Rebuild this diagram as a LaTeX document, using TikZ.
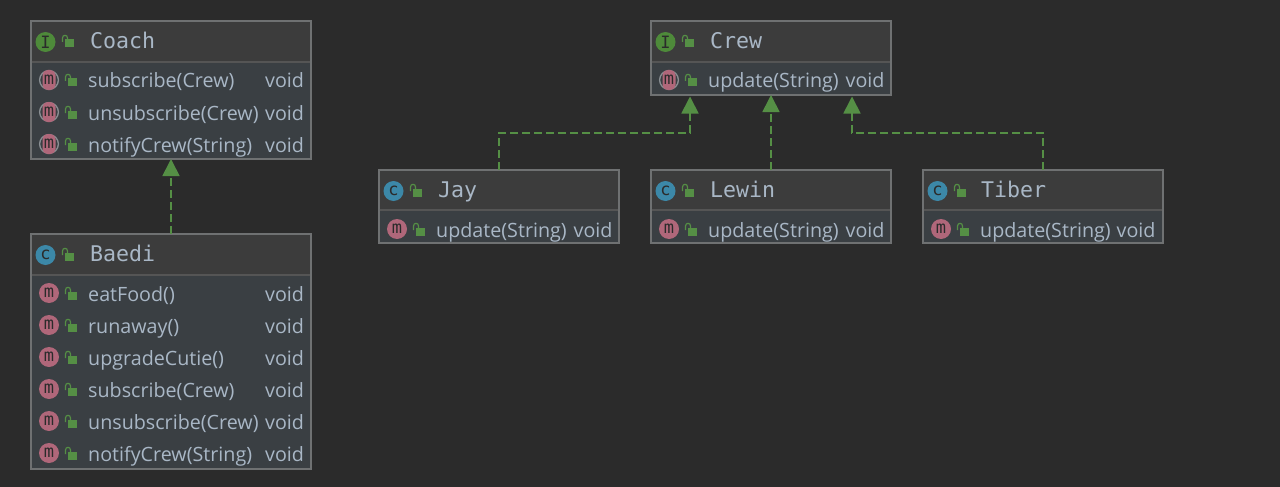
\documentclass[tikz,border=0pt]{standalone}
\usepackage{fontspec}
\setmainfont{Open Sans}
\newfontfamily\titlefont{DejaVu Sans Mono}
\usetikzlibrary{arrows.meta}
\definecolor{bgc}{HTML}{2B2B2B}
\definecolor{headc}{HTML}{3C3C3C}
\definecolor{bodyc}{HTML}{3A3F43}
\definecolor{edgec}{HTML}{6F7172}
\definecolor{sepc}{HTML}{555555}
\definecolor{txtc}{HTML}{A9B7C6}
\definecolor{greenc}{HTML}{558F45}
\definecolor{ifacec}{HTML}{4E8A3A}
\definecolor{classc}{HTML}{3C88A8}
\definecolor{methc}{HTML}{B0677A}
\definecolor{ringc}{HTML}{8A8F93}
\tikzset{
  x=1pt,y=-1pt,
  box/.style={draw=edgec,line width=1.2pt,fill=bodyc,inner sep=0pt,outer sep=0pt,anchor=north west},
  title/.style={font=\titlefont\fontsize{21.6}{22}\selectfont,text=txtc,anchor=base west,inner sep=0pt},
  member/.style={font=\fontsize{19.7}{21}\selectfont,text=txtc,anchor=base west,inner sep=0pt},
  badge/.style={circle,inner sep=0pt,minimum size=20pt,text=bgc,font=\fontsize{17}{17}\selectfont},
  realize/.style={draw=greenc,line width=1.7pt,dash pattern=on 8pt off 4pt,-{Triangle[width=17pt,length=17pt,fill=greenc]}},
}
\newcounter{itemc}
% open padlock centred on x,y
\newcommand{\padlock}[2]{%
  \fill[greenc] (#1-3.5,#2-2.5) rectangle (#1+5.5,#2+5.5);
  \draw[greenc,line width=1.2pt] (#1-5.5,#2) -- (#1-5.5,#2-4) .. controls (#1-5.5,#2-7.5) and (#1-0.5,#2-7.5) .. (#1-0.5,#2-4) -- (#1-0.5,#2-2);
}
\newcommand{\umlbox}[8]{%
  \node[box,minimum width=#6,minimum height=#4-#3] (#1) at (#2,#3) {};
  \fill[headc] (#2+0.6,#3+0.6) rectangle (#2+#6-0.6,#5);
  \draw[sepc,line width=1.2pt] (#2+0.6,#5) -- (#2+#6-0.6,#5);
  \node[badge,fill=#7] (#1-badge) at (#2+14.5,#3+21) {\titlefont #8};
  \padlock{#2+37}{#3+21}
}
\newcommand{\umltitle}[4]{\node[title] (#1-title) at (#2,#3) {#4};}
\newcommand{\mrow}[4]{%
  \stepcounter{itemc}%
  \node[badge,fill=methc] (m\theitemc) at (#1+18,#2-1) {\titlefont m};
  \padlock{#1+40}{#2}
  \node[member] (t\theitemc) at (#1+57,#2+7) {#3};
  \node[member] (v\theitemc) at (#4,#2+7) {void};
}
\newcommand{\arow}[4]{%
  \stepcounter{itemc}%
  \draw[ringc,line width=1.3pt] (#1+18,#2-1) circle[radius=9.4];
  \node[fill=methc,rounded corners=5pt,minimum width=13pt,minimum height=20pt,inner sep=0pt,text=bgc,font=\titlefont\fontsize{17}{17}\selectfont] (m\theitemc) at (#1+18,#2-1) {m};
  \padlock{#1+40}{#2}
  \node[member] (t\theitemc) at (#1+57,#2+7) {#3};
  \node[member] (v\theitemc) at (#4,#2+7) {void};
}
\begin{document}
\begin{tikzpicture}
\fill[bgc] (0,0) rectangle (1280,487);
\useasboundingbox (0,0) rectangle (1280,487);

\umlbox{coach}{31}{21}{159}{62}{280}{ifacec}{I}
\umltitle{coach}{90}{49}{Coach}
\arow{31}{81}{subscribe(Crew)}{265}
\arow{31}{113}{unsubscribe(Crew)}{265}
\arow{31}{145}{notifyCrew(String)}{265}

\umlbox{baedi}{31}{234}{469}{275}{280}{classc}{c}
\umltitle{baedi}{90}{261}{Baedi}
\mrow{31}{294}{eatFood()}{265}
\mrow{31}{326}{runaway()}{265}
\mrow{31}{358}{upgradeCutie()}{265}
\mrow{31}{390}{subscribe(Crew)}{265}
\mrow{31}{422}{unsubscribe(Crew)}{265}
\mrow{31}{454}{notifyCrew(String)}{265}

\umlbox{crew}{651}{21}{95}{62}{240}{ifacec}{I}
\umltitle{crew}{710}{49}{Crew}
\arow{651}{81}{update(String)}{845.5}

\umlbox{jay}{379}{170}{243}{210}{240}{classc}{c}
\umltitle{jay}{438}{197}{Jay}
\mrow{379}{230}{update(String)}{573.5}

\umlbox{lewin}{651}{170}{243}{210}{240}{classc}{c}
\umltitle{lewin}{710}{197}{Lewin}
\mrow{651}{230}{update(String)}{845.5}

\umlbox{tiber}{923}{170}{243}{210}{240}{classc}{c}
\umltitle{tiber}{981}{197}{Tiber}
\mrow{923}{230}{update(String)}{1116.5}

\coordinate (crewL) at (690,96.5);
\coordinate (crewR) at (852,96.5);
\draw[realize] (baedi.north) -- (coach.south);
\draw[realize] (lewin.north) -- (crew.south);
\draw[realize] (jay.north) -- ++(0,-37) -| (crewL);
\draw[realize] (tiber.north) -- ++(0,-37) -| (crewR);
\end{tikzpicture}
\end{document}
